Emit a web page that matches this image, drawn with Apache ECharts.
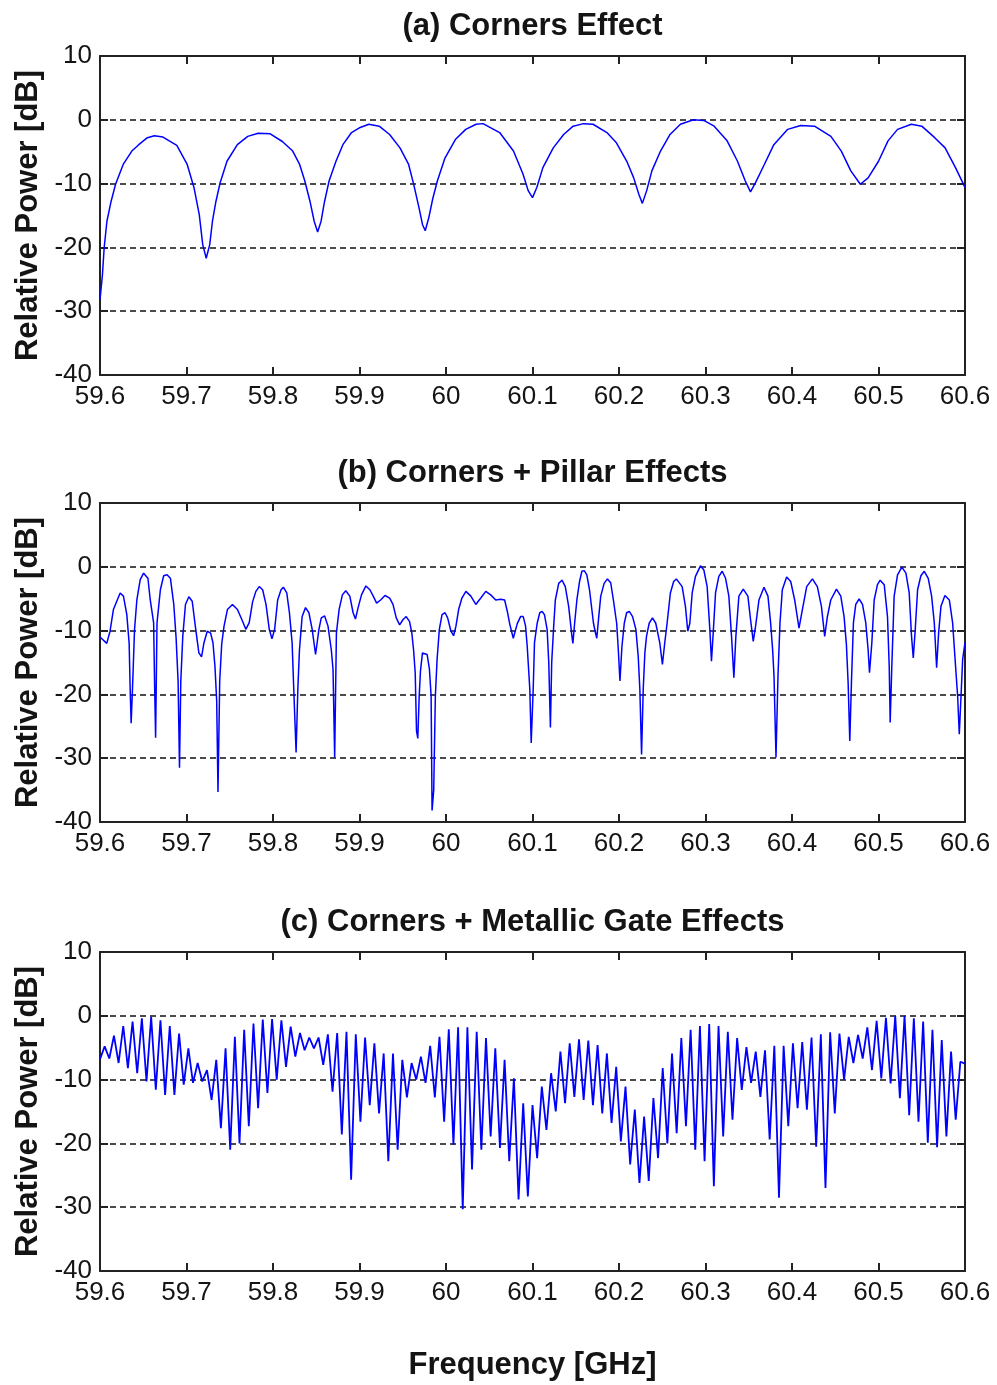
<!DOCTYPE html>
<html>
<head>
<meta charset="utf-8">
<title>Relative Power vs Frequency</title>
<script src="https://cdn.jsdelivr.net/npm/echarts@6/dist/echarts.min.js"></script>
<style>
  html, body { margin: 0; padding: 0; background: #fff; }
  #chart { width: 997px; height: 1385px; }
</style>
</head>
<body>
<div id="chart"></div>
<script>
// axis ranges and labels
var freqMin = 59.6, freqMax = 60.6, freqStep = 0.1;
var powMin = -40, powMax = 10, powStep = 10;
var panelTitles = ['(a) Corners Effect', '(b) Corners + Pillar Effects', '(c) Corners + Metallic Gate Effects'];
var yName = 'Relative Power [dB]';
var xName = 'Frequency [GHz]';

// (a) corners only: [GHz, dB]
var curveA = [
  [59.6000, -28.2], [59.6028, -24.3], [59.6048, -20.1], [59.6080, -15.9], [59.6128, -12.8], [59.6180, -10.1],
  [59.6268, -7.0], [59.6368, -4.9], [59.6448, -3.9], [59.6548, -2.8], [59.6628, -2.5], [59.6728, -2.7],
  [59.6888, -4.0], [59.7008, -7.0], [59.7088, -10.7], [59.7148, -14.9], [59.7188, -19.6], [59.7228, -21.7],
  [59.7268, -19.6], [59.7300, -15.9], [59.7340, -12.8], [59.7388, -9.9], [59.7468, -6.5], [59.7588, -3.9],
  [59.7708, -2.6], [59.7828, -2.1], [59.7968, -2.2], [59.8108, -3.4], [59.8228, -4.9], [59.8308, -7.0],
  [59.8368, -9.6], [59.8428, -12.8], [59.8476, -15.9], [59.8516, -17.6], [59.8556, -15.9], [59.8596, -12.8],
  [59.8648, -9.6], [59.8728, -6.5], [59.8808, -3.9], [59.8908, -2.0], [59.9008, -1.2], [59.9108, -0.7],
  [59.9228, -1.0], [59.9348, -2.3], [59.9468, -4.4], [59.9568, -7.0], [59.9628, -10.2], [59.9688, -13.8],
  [59.9728, -16.4], [59.9760, -17.4], [59.9800, -15.4], [59.9848, -12.3], [59.9900, -9.6], [59.9988, -6.0],
  [60.0108, -3.1], [60.0228, -1.5], [60.0348, -0.7], [60.0428, -0.6], [60.0620, -2.0], [60.0780, -4.9],
  [60.0890, -8.5], [60.0950, -11.1], [60.1000, -12.2], [60.1050, -10.6], [60.1120, -7.5], [60.1240, -4.4],
  [60.1360, -2.3], [60.1470, -1.0], [60.1590, -0.6], [60.1700, -0.7], [60.1860, -2.0], [60.1970, -3.6],
  [60.2090, -6.5], [60.2170, -9.1], [60.2230, -11.7], [60.2270, -13.1], [60.2320, -11.1], [60.2380, -8.0],
  [60.2480, -4.9], [60.2590, -2.3], [60.2710, -0.7], [60.2860, 0.0], [60.2980, -0.1], [60.3100, -1.0],
  [60.3250, -3.3], [60.3370, -6.5], [60.3460, -9.6], [60.3520, -11.3], [60.3580, -9.8], [60.3680, -7.0],
  [60.3790, -3.9], [60.3950, -1.5], [60.4100, -0.9], [60.4260, -1.0], [60.4450, -2.6], [60.4570, -4.9],
  [60.4680, -8.0], [60.4790, -10.1], [60.4880, -9.1], [60.5000, -6.5], [60.5110, -3.3], [60.5220, -1.5],
  [60.5380, -0.7], [60.5500, -1.0], [60.5650, -2.8], [60.5770, -4.4], [60.5890, -7.5], [60.6000, -10.6]
];

// (b) corners + pillar: [GHz, dB]
var curveB = [
  [59.6000, -11.0], [59.6078, -12.0], [59.6116, -10.1], [59.6155, -6.7], [59.6233, -4.1], [59.6271, -4.6],
  [59.6310, -7.5], [59.6337, -12.0], [59.6349, -19.3], [59.6360, -24.5], [59.6376, -19.0], [59.6399, -9.9],
  [59.6426, -5.2], [59.6465, -2.0], [59.6504, -1.0], [59.6554, -1.8], [59.6581, -5.2], [59.6620, -8.8],
  [59.6632, -19.0], [59.6643, -26.8], [59.6659, -8.8], [59.6698, -3.6], [59.6736, -1.4], [59.6775, -1.25],
  [59.6814, -1.8], [59.6853, -5.9], [59.6880, -11.2], [59.6903, -18.0], [59.6919, -31.5], [59.6934, -18.0],
  [59.6957, -10.9], [59.6988, -5.9], [59.7027, -4.7], [59.7066, -5.4], [59.7105, -9.6], [59.7143, -13.5],
  [59.7174, -14.1], [59.7202, -11.9], [59.7240, -10.1], [59.7279, -10.4], [59.7306, -11.9], [59.7329, -15.6],
  [59.7349, -21.0], [59.7364, -35.3], [59.7384, -17.9], [59.7407, -12.1], [59.7434, -9.3], [59.7473, -6.7],
  [59.7531, -5.9], [59.7589, -6.7], [59.7647, -8.5], [59.7686, -9.8], [59.7725, -8.75], [59.7764, -5.5],
  [59.7802, -3.85], [59.7841, -3.1], [59.7880, -3.6], [59.7919, -5.9], [59.7957, -9.8], [59.7988, -11.3],
  [59.8019, -9.8], [59.8054, -5.2], [59.8093, -3.6], [59.8120, -3.2], [59.8159, -4.1], [59.8190, -7.2],
  [59.8221, -11.9], [59.8240, -19.2], [59.8267, -29.1], [59.8287, -19.2], [59.8306, -13.0], [59.8337, -7.8],
  [59.8376, -6.4], [59.8415, -7.2], [59.8453, -9.8], [59.8492, -13.75], [59.8531, -9.8], [59.8558, -8.0],
  [59.8597, -7.7], [59.8636, -9.3], [59.8674, -13.0], [59.8694, -16.1], [59.8713, -29.9], [59.8733, -10.4],
  [59.8764, -6.7], [59.8802, -4.4], [59.8841, -3.75], [59.8888, -4.6], [59.8926, -7.2], [59.8953, -8.2],
  [59.8984, -6.4], [59.9023, -4.4], [59.9074, -3.0], [59.9120, -3.6], [59.9159, -4.6], [59.9198, -5.7],
  [59.9244, -5.2], [59.9295, -4.5], [59.9310, -4.4], [59.9349, -4.9], [59.9387, -5.9], [59.9425, -8.0],
  [59.9464, -9.1], [59.9502, -8.3], [59.9540, -7.8], [59.9579, -8.6], [59.9605, -10.4], [59.9625, -13.0],
  [59.9644, -16.6], [59.9659, -25.7], [59.9674, -26.9], [59.9690, -20.3], [59.9705, -16.3], [59.9728, -13.5],
  [59.9751, -13.2], [59.9782, -13.75], [59.9808, -16.0], [59.9828, -20.2], [59.9839, -38.2], [59.9858, -35.0],
  [59.9877, -20.3], [59.9897, -14.5], [59.9923, -9.8], [59.9954, -7.5], [59.9989, -7.2], [60.0019, -8.0],
  [60.0057, -10.1], [60.0088, -10.8], [60.0115, -9.3], [60.0146, -6.7], [60.0184, -4.9], [60.0230, -3.85],
  [60.0287, -4.6], [60.0345, -5.9], [60.0402, -4.9], [60.0460, -3.85], [60.0517, -4.4], [60.0575, -5.2],
  [60.0632, -5.1], [60.0678, -5.2], [60.0709, -7.0], [60.0739, -9.1], [60.0778, -11.2], [60.0824, -8.9],
  [60.0862, -7.8], [60.0893, -7.8], [60.0920, -9.3], [60.0939, -12.5], [60.0969, -19.2], [60.0985, -27.6],
  [60.1008, -19.2], [60.1023, -11.9], [60.1054, -8.85], [60.1084, -7.2], [60.1111, -7.0], [60.1138, -7.5],
  [60.1169, -9.8], [60.1188, -15.0], [60.1207, -25.2], [60.1222, -15.0], [60.1245, -9.3], [60.1264, -5.2],
  [60.1303, -2.6], [60.1341, -2.1], [60.1379, -3.1], [60.1418, -6.2], [60.1456, -10.9], [60.1467, -12.0],
  [60.1487, -8.85], [60.1513, -5.2], [60.1544, -2.3], [60.1571, -0.7], [60.1598, -0.6], [60.1628, -1.25],
  [60.1659, -3.6], [60.1705, -8.85], [60.1724, -10.1], [60.1743, -11.2], [60.1766, -7.8], [60.1789, -4.6],
  [60.1828, -2.6], [60.1866, -1.9], [60.1904, -2.5], [60.1935, -5.2], [60.1973, -8.85], [60.1992, -13.0],
  [60.2011, -17.9], [60.2034, -12.5], [60.2061, -8.85], [60.2088, -7.2], [60.2119, -7.0], [60.2157, -7.8],
  [60.2195, -9.8], [60.2222, -14.0], [60.2241, -19.2], [60.2261, -29.4], [60.2280, -19.2], [60.2299, -13.5],
  [60.2318, -10.9], [60.2349, -8.85], [60.2387, -8.0], [60.2425, -8.85], [60.2471, -11.9], [60.2502, -15.3],
  [60.2529, -11.9], [60.2556, -8.85], [60.2594, -4.1], [60.2632, -2.3], [60.2663, -1.9], [60.2730, -3.1],
  [60.2768, -6.2], [60.2795, -10.1], [60.2819, -8.85], [60.2846, -4.1], [60.2884, -1.5], [60.2942, 0.15],
  [60.2981, -0.5], [60.3019, -3.1], [60.3050, -9.8], [60.3069, -14.8], [60.3089, -10.4], [60.3116, -4.1],
  [60.3154, -1.5], [60.3193, -0.7], [60.3232, -1.8], [60.3270, -4.6], [60.3301, -10.9], [60.3328, -17.4],
  [60.3351, -10.9], [60.3386, -4.6], [60.3436, -3.5], [60.3490, -4.6], [60.3521, -8.3], [60.3552, -11.7],
  [60.3579, -9.3], [60.3618, -5.2], [60.3676, -3.2], [60.3722, -4.6], [60.3753, -8.8], [60.3776, -13.0],
  [60.3792, -17.1], [60.3815, -29.9], [60.3838, -17.1], [60.3861, -8.8], [60.3888, -3.6], [60.3938, -1.6],
  [60.3985, -2.3], [60.4031, -5.2], [60.4081, -9.6], [60.4120, -6.7], [60.4170, -3.1], [60.4236, -1.9],
  [60.4293, -3.1], [60.4340, -6.2], [60.4378, -10.9], [60.4409, -7.8], [60.4448, -5.2], [60.4514, -3.5],
  [60.4564, -4.6], [60.4602, -7.8], [60.4629, -12.2], [60.4649, -18.2], [60.4668, -27.3], [60.4687, -18.2],
  [60.4710, -8.8], [60.4737, -5.9], [60.4776, -5.05], [60.4815, -5.9], [60.4853, -8.8], [60.4880, -13.0],
  [60.4896, -16.6], [60.4923, -11.9], [60.4950, -5.2], [60.4988, -2.8], [60.5019, -2.1], [60.5066, -2.8],
  [60.5104, -7.8], [60.5124, -15.6], [60.5135, -24.4], [60.5154, -15.6], [60.5181, -4.6], [60.5220, -1.25],
  [60.5270, -0.05], [60.5317, -1.0], [60.5355, -4.1], [60.5382, -10.9], [60.5402, -14.3], [60.5425, -9.8],
  [60.5452, -3.6], [60.5490, -1.4], [60.5529, -0.7], [60.5575, -1.8], [60.5614, -4.6], [60.5645, -8.8],
  [60.5672, -15.8], [60.5695, -10.4], [60.5722, -6.2], [60.5768, -4.5], [60.5819, -5.2], [60.5857, -8.8],
  [60.5896, -16.6], [60.5915, -20.3], [60.5934, -26.25], [60.5954, -20.3], [60.5973, -14.5], [60.6000, -11.9]
];

// (c) corners + metallic gate: lobe tops and the nulls after them,
// on an even frequency grid (null, top, null, top ... from 59.6 to 60.6)
var startC = -6.8;
var peaksC = [
  -4.8, -3.1, -1.6, -0.9, -0.4, -0.15, -0.7, -1.6, -2.8, -5.1, -7.4, -8.5, -6.9, -5.1, -3.3, -2.2, -1.2, -0.6, -0.5, -0.7, -1.7, -2.7, -3.4,
  -3.4, -2.9, -2.7, -2.5, -2.9, -3.4, -4.3, -5.9, -5.9, -6.9, -7.4, -6.4, -4.7, -3.3, -2.1, -1.8, -1.8, -2.5, -3.5, -5.1, -6.9, -9.8, -13.7, -14,
  -11.1, -9, -5.6, -4.3, -3.7, -3.9, -4.6, -5.9, -8, -11.1, -14.7, -15.8, -12.9, -8.2, -5.9, -3.5, -2.2, -1.6, -1.3, -1.6, -2.5, -3.5, -4.9, -5.6,
  -5.4, -4.7, -4.7, -4.3, -4.1, -3.4, -2.9, -2.6, -2.8, -3.3, -3, -1.8, -0.8, -0.3, 0, 0, -0.4, -0.9, -2.2, -3.8, -5.6, -7.2
];
var nullsC = [
  -6.7, -7.4, -8.2, -9, -10.3, -11.6, -12.4, -12.4, -10.8, -10.5, -10.3, -13.2, -17.6, -21, -20, -17.3, -14.5, -12.1, -10, -8, -6.4, -5.4, -5.1,
  -7.7, -11.9, -18.6, -25.7, -16.6, -14, -15.3, -22.8, -21, -12.8, -10, -10.5, -12.8, -16.6, -20.2, -30.3, -24.1, -21, -18.9, -20.7, -22.8, -28.8, -28.3, -22.3,
  -17.9, -15, -13.7, -12.7, -13.2, -14, -15.3, -16.8, -19.7, -23.3, -26.2, -25.9, -22.3, -20, -18.4, -17.3, -21, -22.8, -26.7, -18.9, -16.3, -11.6, -10.5, -12.7,
  -19.4, -28.5, -17.3, -14.5, -14.7, -20.5, -27, -15.3, -10, -7.4, -6.7, -8.5, -9.8, -10.6, -12.9, -15.6, -16.6, -19.9, -20.6, -18.9, -16.3, -7.5
];

var fontName = '"Liberation Sans", Arial, sans-serif';
var inkColor = '#141414';
var plotLeft = 100, plotRight = 965, plotH = 319;
var panelTops = [56, 503, 952];
var lineWidths = [1.5, 1.5, 1.8];

function buildCurveC() {
  var nSteps = peaksC.length * 2;
  var df = (freqMax - freqMin) / nSteps;
  var out = [[freqMin, startC]];
  for (var k = 0; k < peaksC.length; k++) {
    out.push([freqMin + (2 * k + 1) * df, peaksC[k]]);
    out.push([freqMin + (2 * k + 2) * df, nullsC[k]]);
  }
  return out;
}

function fmtFreq(v) {
  return String(+v.toFixed(1));
}

var edge = { color: '#222', width: 2 };

function xAxisFor(i, pos) {
  return {
    gridIndex: i, type: 'value', position: pos,
    min: freqMin, max: freqMax, interval: freqStep,
    axisLine: { show: true, onZero: false, lineStyle: edge },
    axisTick: { show: true, inside: true, length: 8, lineStyle: edge },
    axisLabel: {
      show: pos === 'bottom', margin: 9, fontSize: 26, color: inkColor,
      fontFamily: fontName, showMinLabel: true, showMaxLabel: true, formatter: fmtFreq
    },
    splitLine: { show: false }
  };
}

function yAxisFor(i, pos) {
  return {
    gridIndex: i, type: 'value', position: pos,
    min: powMin, max: powMax, interval: powStep,
    axisLine: { show: true, onZero: false, lineStyle: edge },
    axisTick: { show: true, inside: true, length: 8, lineStyle: edge },
    axisLabel: {
      show: pos === 'left', margin: 8, fontSize: 26, color: inkColor,
      fontFamily: fontName, showMinLabel: true, showMaxLabel: true
    },
    splitLine: {
      show: pos === 'left',
      lineStyle: { color: '#111', width: 1.5, type: [6, 4] }
    }
  };
}

var curves = [curveA, curveB, buildCurveC()];
var grids = [], xAxes = [], yAxes = [], series = [], texts = [];

for (var i = 0; i < 3; i++) {
  grids.push({ left: plotLeft, width: plotRight - plotLeft, top: panelTops[i], height: plotH });
  xAxes.push(xAxisFor(i, 'bottom'), xAxisFor(i, 'top'));
  yAxes.push(yAxisFor(i, 'left'), yAxisFor(i, 'right'));
  series.push({
    type: 'line', xAxisIndex: 2 * i, yAxisIndex: 2 * i,
    data: curves[i], symbol: 'none', clip: true,
    lineStyle: { color: '#0000ff', width: lineWidths[i] }
  });
  texts.push({
    type: 'text', x: (plotLeft + plotRight) / 2, y: panelTops[i] - 30,
    style: { text: panelTitles[i], font: 'bold 31px ' + fontName, fill: inkColor, textAlign: 'center', textVerticalAlign: 'middle' }
  });
  texts.push({
    type: 'text', x: 28, y: panelTops[i] + plotH / 2, rotation: Math.PI / 2,
    style: { text: yName, font: 'bold 31px ' + fontName, fill: inkColor, textAlign: 'center', textVerticalAlign: 'middle' }
  });
}
texts.push({
  type: 'text', x: (plotLeft + plotRight) / 2, y: 1365,
  style: { text: xName, font: 'bold 31px ' + fontName, fill: inkColor, textAlign: 'center', textVerticalAlign: 'middle' }
});

var chart = echarts.init(document.getElementById('chart'));
chart.setOption({
  backgroundColor: '#fff',
  animation: false,
  grid: grids,
  xAxis: xAxes,
  yAxis: yAxes,
  series: series,
  graphic: texts
});
</script>
</body>
</html>
